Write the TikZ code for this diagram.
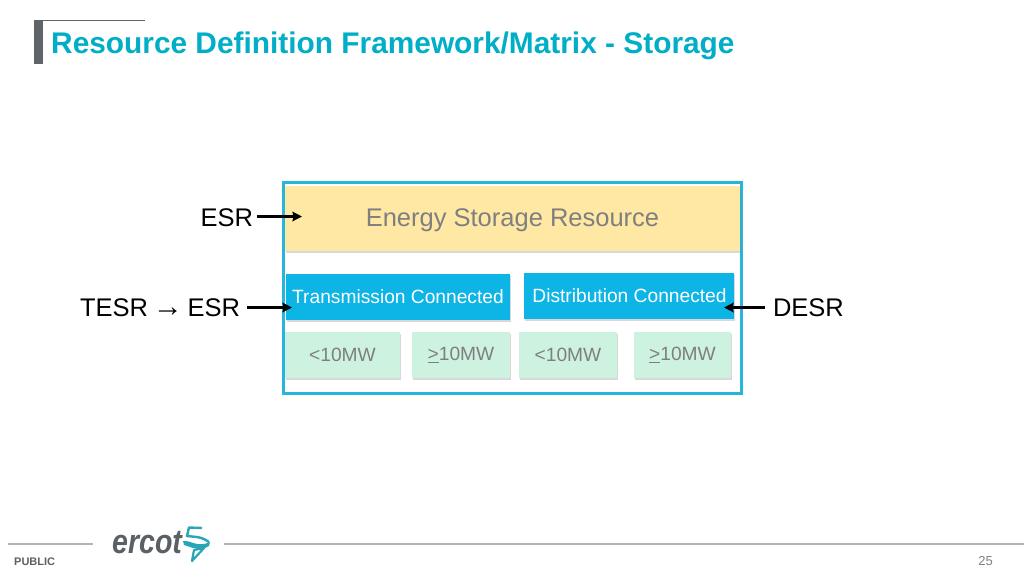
\documentclass[tikz,border=0pt]{standalone}
\usepackage{fontspec}
\setmainfont{Liberation Sans}
\newfontfamily\arrowfont{Liberation Serif}
\usetikzlibrary{shadows,arrows.meta}
\definecolor{frameblue}{HTML}{27B5DC}
\definecolor{titleteal}{HTML}{00AEC7}
\definecolor{barGray}{HTML}{5F6469}
\definecolor{ruleGray}{HTML}{B3B3B3}
\definecolor{yellowfill}{HTML}{FEE8A4}
\definecolor{bluefill}{HTML}{0DB5E6}
\definecolor{greenfill}{HTML}{CDF2E0}
\definecolor{txtGray}{HTML}{7F7F7F}
\definecolor{logoGray}{HTML}{5B6065}
\definecolor{logoTeal}{HTML}{2AA5B8}
\tikzset{
  box/.style={anchor=north west,inner sep=0pt,outer sep=0pt,draw=none,align=center,
    drop shadow={shadow xshift=1pt,shadow yshift=-2pt,opacity=0.3,fill=black!50}},
  yellowbox/.style={box,fill=yellowfill,text=txtGray,font=\fontsize{25.5}{28}\selectfont},
  bluebox/.style={box,fill=bluefill,text=white,font=\fontsize{19.2}{22}\selectfont},
  greenbox/.style={box,fill=greenfill,text=txtGray,font=\fontsize{19.2}{22}\selectfont},
  sidelabel/.style={inner sep=0pt,outer sep=0pt,text=black,font=\fontsize{25.5}{28}\selectfont},
  pointer/.style={-{Stealth[length=9.5pt,width=9.5pt,inset=1pt]},line width=2.6pt,black},
  footrule/.style={ruleGray,line width=1.6pt},
}
\begin{document}
\begin{tikzpicture}[x=1pt,y=-1pt]
\useasboundingbox[fill=white] (0,0) rectangle (1024,576);
% title
\fill[barGray] (34,20) rectangle (43,64);
\draw[barGray,line width=0.9pt] (43,20.5) -- (145,20.5);
\node[anchor=base west,inner sep=0pt,text=titleteal,font=\fontsize{29.85}{32}\selectfont\bfseries] (title) at (51,53) {Resource Definition Framework/Matrix - Storage};
% frame
\draw[frameblue,line width=3pt] (283.5,182.5) rectangle (741.5,393.5);
% boxes
\node[yellowbox,minimum width=455pt,minimum height=65pt] (esrbox) at (285,186) {\raisebox{-2pt}[\height][\depth]{Energy Storage Resource}};
\node[bluebox,minimum width=224pt,minimum height=46pt] (tbox) at (286,274) {Transmission Connected};
\node[bluebox,minimum width=210.5pt,minimum height=46pt] (dbox) at (523.5,273) {\hspace{1.5pt}Distribution Connected};
\node[greenbox,minimum width=115pt,minimum height=45.5pt] (g1) at (285,332) {<10MW};
\node[greenbox,minimum width=98pt,minimum height=45.5pt] (g2) at (412,332) {\underline{>}10MW};
\node[greenbox,minimum width=98pt,minimum height=45.5pt] (g3) at (519,332) {<10MW};
\node[greenbox,minimum width=97pt,minimum height=45.5pt] (g4) at (634,332) {\underline{>}10MW};
% labels
\node[sidelabel,anchor=base west] (esr) at (200.5,226) {ESR};
\node[sidelabel,anchor=base west] (tesr) at (80,316.5) {TESR \makebox[25.5pt][c]{\arrowfont\fontsize{30}{30}\selectfont →} ESR};
\node[sidelabel,anchor=base west] (desr) at (773,316.5) {DESR};
\coordinate (esrtip) at (302,216.5);
\coordinate (ttip) at (292,307.5);
\coordinate (dtip) at (724,307.5);
\coordinate (esrtail) at (257,216.5);
\coordinate (ttail) at (247,307.5);
\coordinate (dtail) at (765,307.5);
\draw[pointer] (esrtail) -- (esrtip);
\draw[pointer] (ttail) -- (ttip);
\draw[pointer] (dtail) -- (dtip);
% footer
\draw[footrule] (8,544) -- (93,544);
\draw[footrule] (224,544) -- (1024,544);
\node[anchor=base west,inner sep=0pt,text=logoGray,font=\fontsize{11}{12}\selectfont\bfseries] (public) at (14,565) {PUBLIC};
\node[anchor=base east,inner sep=0pt,text=txtGray,font=\fontsize{13}{15}\selectfont] (page) at (993,565.5) {25};
\node[anchor=base west,inner sep=0pt,text=logoGray,xscale=0.84,font=\fontsize{34}{36}\selectfont\itshape\bfseries] (logo) at (112,553) {ercot};
% logo mark
\draw[logoTeal,line width=2.4pt,line join=round] (202,528) -- (189,527.5) -- (187,536) -- (197,537) .. controls (203,538) and (206,540) .. (209,542);
\fill[logoTeal] (183,541) .. controls (191,540) and (197,548) .. (210,542) -- (209,546) .. controls (200,552) and (191,547) .. (184,545) -- cycle;
\draw[logoTeal,line width=2.2pt,line join=round] (194,550) -- (204,548) -- (192,561) -- cycle;
\end{tikzpicture}
\end{document}
